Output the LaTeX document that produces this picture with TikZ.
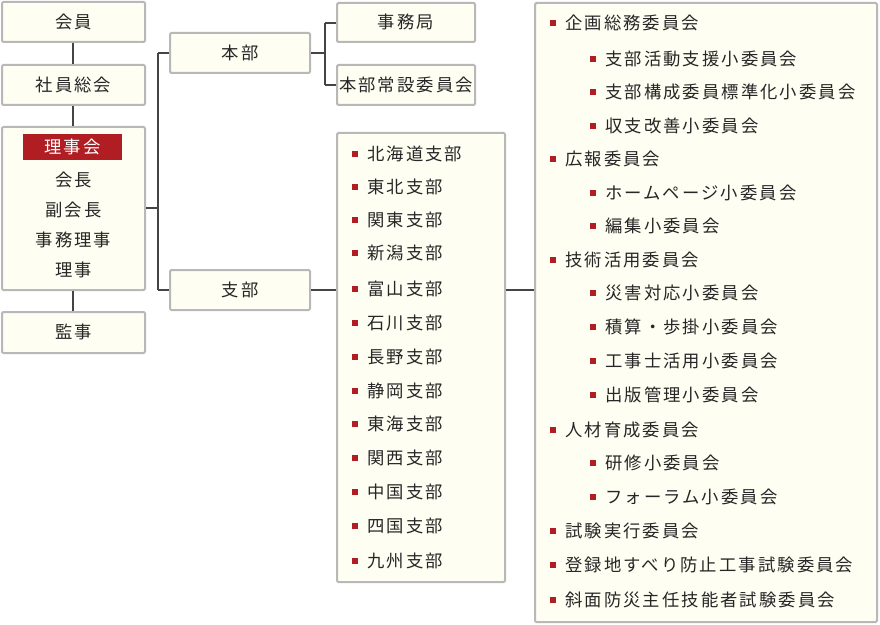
\documentclass[tikz,border=0pt]{standalone}
\usepackage{fontspec}
\setmainfont[LetterSpace=12]{Noto Sans CJK JP}
\begin{document}
\begin{tikzpicture}[x=0.75pt,y=-0.75pt,
  bx/.style={draw=boxgray,fill=boxfill,line width=1.5pt,rounded corners=1pt},
  ln/.style={draw=lngray,line width=1.1pt},
  tx/.style={text=txt,font=\fontsize{13}{15}\selectfont,inner sep=0pt},
  bul/.style={fill=bred,minimum size=4.5pt,inner sep=0pt,rectangle}]
\definecolor{boxgray}{HTML}{B8B8B8}
\definecolor{boxfill}{HTML}{FFFEF2}
\definecolor{lngray}{HTML}{444444}
\definecolor{txt}{HTML}{262626}
\definecolor{bred}{HTML}{B01E23}
\useasboundingbox (0,0) rectangle (880,624);
% left column
\draw[bx] (2,2) rectangle (145,42); \node[tx] (kaiin) at (73.5,22) {会員};
\draw[bx] (2,65) rectangle (145,105); \node[tx] (shain) at (73.5,85) {社員総会};
\draw[bx] (2,127) rectangle (145,290);
\node[fill=bred,minimum width=74pt,minimum height=19.5pt,inner sep=0pt,text=white,font=\fontsize{13}{15}\selectfont] (riji) at (72.5,147) {理事会};
\node[tx] (a1) at (73.5,180) {会長};
\node[tx] (a2) at (73.5,210) {副会長};
\node[tx] (a3) at (73.5,240) {事務理事};
\node[tx] (a4) at (73.5,270) {理事};
\draw[bx] (2,312) rectangle (145,353); \node[tx] (kanji) at (73.5,332) {監事};
\draw[ln] (73,43) -- (73,64) (73,106) -- (73,126) (73,291) -- (73,311);
% bracket
\draw[ln] (146,208) -- (158,208) (158,53) -- (158,290) (158,53) -- (169,53) (158,290) -- (169,290);
\draw[bx] (170,33) rectangle (310,73); \node[tx] (honbu) at (240,53) {本部};
\draw[bx] (170,270) rectangle (310,310); \node[tx] (shibu) at (240,290) {支部};
\draw[ln] (311,53) -- (325,53) (325,23) -- (325,85) (325,23) -- (336,23) (325,85) -- (336,85);
\draw[bx] (337,3) rectangle (475,42); \node[tx] (jimu) at (406,22) {事務局};
\draw[bx] (337,65) rectangle (475,105); \node[tx] (josetsu) at (406,85) {本部常設委員会};
\draw[ln] (311,290) -- (336,290);
\draw[bx] (337,133) rectangle (505,582);
\foreach \t/\y in {北海道支部/154,東北支部/187,関東支部/220,新潟支部/253,富山支部/289,石川支部/323,長野支部/357,静岡支部/391,東海支部/424,関西支部/458,中国支部/492,四国支部/526,九州支部/561}{
  \node[bul] at (355,\y) {}; \node[tx,anchor=west] at (367,\y) {\t};}
\draw[ln] (506,290) -- (534,290);
\draw[bx] (535,3) rectangle (877,622);
\foreach \l/\t/\y in {0/企画総務委員会/23,1/支部活動支援小委員会/59,1/支部構成委員標準化小委員会/92,1/収支改善小委員会/126,0/広報委員会/159,1/ホームページ小委員会/193,1/編集小委員会/226,0/技術活用委員会/260,1/災害対応小委員会/293,1/積算・歩掛小委員会/327,1/工事士活用小委員会/361,1/出版管理小委員会/395,0/人材育成委員会/430,1/研修小委員会/463,1/フォーラム小委員会/497,0/試験実行委員会/531,0/登録地すべり防止工事試験委員会/565,0/斜面防災主任技能者試験委員会/600}{
  \node[bul] at (553+40*\l,\y) {}; \node[tx,anchor=west] at (565+40*\l,\y) {\t};}
\end{tikzpicture}
\end{document}
